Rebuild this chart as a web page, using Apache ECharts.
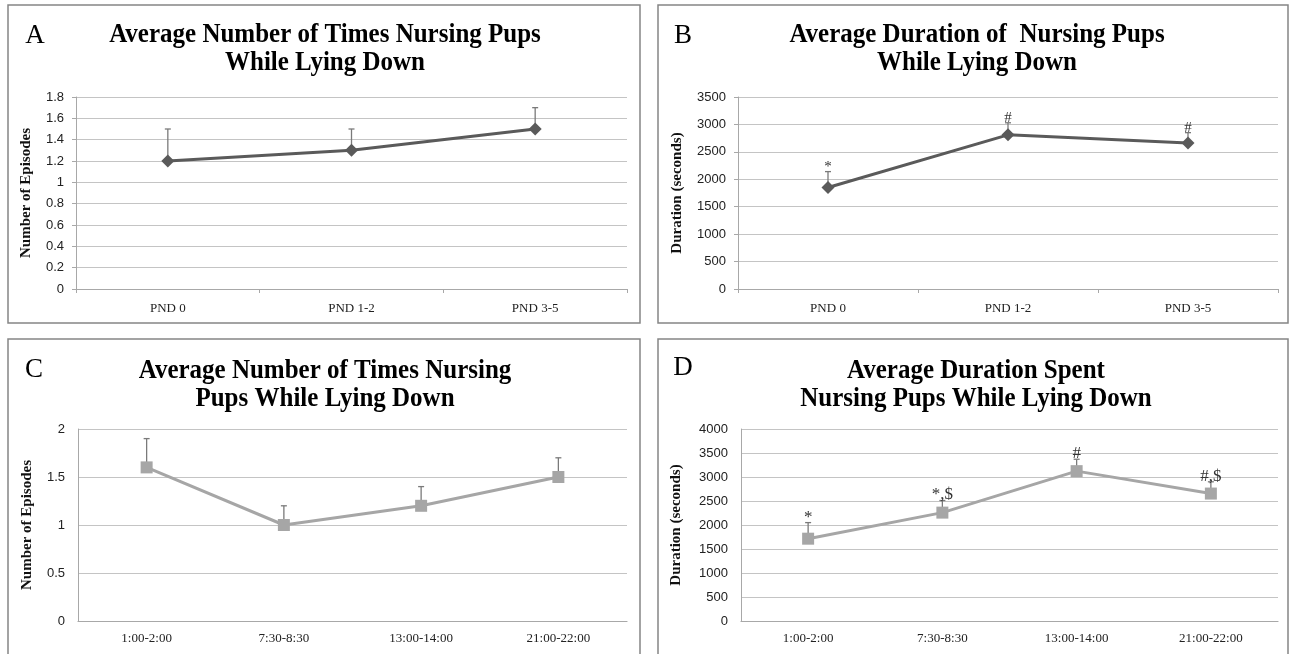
<!DOCTYPE html>
<html>
<head>
<meta charset="utf-8">
<script src="https://cdn.jsdelivr.net/npm/echarts@6/dist/echarts.min.js"></script>
<style>html,body{margin:0;padding:0;background:#fff;}#c{width:1289px;height:654px;}</style>
</head>
<body>
<div id="c"></div>
<script>
// ---- data ----
const catsAB = ['PND 0', 'PND 1-2', 'PND 3-5'];
const catsCD = ['1:00-2:00', '7:30-8:30', '13:00-14:00', '21:00-22:00'];

const meanA = [1.2, 1.3, 1.5];
const upperA = [1.5, 1.5, 1.7];
const markA = ['', '', ''];

const meanB = [1850, 2810, 2660];
const upperB = [2140, 3030, 2850];
const markB = ['*', '#', '#'];

const meanC = [1.6, 1.0, 1.2, 1.5];
const upperC = [1.9, 1.2, 1.4, 1.7];
const markC = ['', '', '', ''];

const meanD = [1715, 2258, 3122, 2655];
const upperD = [2050, 2510, 3370, 2900];
const markD = ['*', '*,$', '#', '#,$'];

const yRangeA = [0, 1.8, 0.2];
const yRangeB = [0, 3500, 500];
const yRangeC = [0, 2, 0.5];
const yRangeD = [0, 4000, 500];

const titleA = 'Average Number of Times Nursing Pups\nWhile Lying Down';
const titleB = 'Average Duration of  Nursing Pups\nWhile Lying Down';
const titleC = 'Average Number of Times Nursing\nPups While Lying Down';
const titleD = 'Average Duration Spent\nNursing Pups While Lying Down';
const nameEp = 'Number of Episodes';
const nameDur = 'Duration (seconds)';

// ---- chart ----
const chart = echarts.init(document.getElementById('c'));
const serif = '"Liberation Serif", "Times New Roman", serif';
const sans = '"Liberation Sans", Arial, sans-serif';
const gridColor = '#c4c4c4';

function yAxis(idx, range, name, gap, ticks) {
  return {
    type: 'value', gridIndex: idx, min: range[0], max: range[1], interval: range[2],
    name: name, nameLocation: 'middle', nameGap: gap,
    nameTextStyle: { fontFamily: serif, fontWeight: 'bold', fontSize: 15, color: '#111' },
    axisLine: { show: true, lineStyle: { color: '#a8a8a8', width: 1 } },
    axisTick: { show: ticks, length: 4, lineStyle: { color: '#a8a8a8' } },
    axisLabel: { fontFamily: sans, fontSize: 13, color: '#222', margin: ticks ? 12 : 13, formatter: v => String(v) },
    splitLine: { show: true, lineStyle: { color: gridColor, width: 1.2 } }
  };
}
function xAxis(idx, cats, ticks, margin) {
  return {
    type: 'category', gridIndex: idx, data: cats, boundaryGap: true,
    axisLine: { show: true, lineStyle: { color: '#a8a8a8', width: 1.2 } },
    axisTick: { show: ticks, length: 4, lineStyle: { color: '#a8a8a8' } },
    axisLabel: { fontFamily: serif, fontSize: 13, color: '#222', margin: margin },
    splitLine: { show: false }
  };
}
function lineSeries(idx, data, color, symbol, size) {
  return {
    type: 'line', xAxisIndex: idx, yAxisIndex: idx, data: data,
    symbol: symbol, symbolSize: size, showSymbol: true,
    lineStyle: { color: color, width: 3 },
    itemStyle: { color: color, borderWidth: 0 },
    z: 5, animation: false, silent: true
  };
}
function errSeries(idx, means, uppers, marks, color, markSize) {
  return {
    type: 'custom', xAxisIndex: idx, yAxisIndex: idx, z: 3, animation: false, silent: true,
    data: means.map((m, i) => [i, m, uppers[i]]),
    renderItem: function (params, api) {
      const p = api.coord([api.value(0), api.value(1)]);
      const t = api.coord([api.value(0), api.value(2)]);
      const children = [
        { type: 'line', shape: { x1: p[0], y1: p[1], x2: t[0], y2: t[1] }, style: { stroke: color, lineWidth: 1.3 } },
        { type: 'line', shape: { x1: t[0] - 3, y1: t[1], x2: t[0] + 3, y2: t[1] }, style: { stroke: color, lineWidth: 1.3 } }
      ];
      const m = marks[params.dataIndex];
      if (m) {
        children.push({ type: 'text', x: t[0], y: t[1] + 3, style: { text: m, fontFamily: serif, fontSize: markSize, fill: '#333', align: 'center', verticalAlign: 'bottom' } });
      }
      return { type: 'group', children: children };
    }
  };
}
function titleText(cx, cy, text) {
  return { type: 'text', x: cx, y: cy, scaleY: 1.1, style: { text: text, fontFamily: serif, fontWeight: 'bold', fontSize: 25, lineHeight: 26, fill: '#000', align: 'center', verticalAlign: 'middle' } };
}
function letter(cx, cy, text) {
  return { type: 'text', x: cx, y: cy, style: { text: text, fontFamily: serif, fontSize: 27, fill: '#000', align: 'center', verticalAlign: 'middle' } };
}
function frame(x, y, w, h) {
  return { type: 'rect', shape: { x: x, y: y, width: w, height: h }, style: { fill: 'none', stroke: '#858585', lineWidth: 1.5 }, z: -1 };
}

const darkGray = '#5a5a5a';
const lightGray = '#a6a6a6';

chart.setOption({
  animation: false,
  backgroundColor: '#fff',
  grid: [
    { left: 76, top: 97, width: 551, height: 192 },
    { left: 738, top: 97, width: 540, height: 192 },
    { left: 78, top: 429, width: 549, height: 192 },
    { left: 741, top: 429, width: 537, height: 192 }
  ],
  xAxis: [xAxis(0, catsAB, true, 13), xAxis(1, catsAB, true, 13), xAxis(2, catsCD, false, 11), xAxis(3, catsCD, false, 11)],
  yAxis: [
    yAxis(0, yRangeA, nameEp, 42, true),
    yAxis(1, yRangeB, nameDur, 53, true),
    yAxis(2, yRangeC, nameEp, 43, false),
    yAxis(3, yRangeD, nameDur, 57, false)
  ],
  series: [
    errSeries(0, meanA, upperA, markA, '#7a7a7a', 14),
    lineSeries(0, meanA, darkGray, 'diamond', 13),
    errSeries(1, meanB, upperB, markB, '#7a7a7a', 15),
    lineSeries(1, meanB, darkGray, 'diamond', 13),
    errSeries(2, meanC, upperC, markC, '#7a7a7a', 15),
    lineSeries(2, meanC, lightGray, 'rect', 12),
    errSeries(3, meanD, upperD, markD, '#7a7a7a', 17),
    lineSeries(3, meanD, lightGray, 'rect', 12)
  ],
  graphic: [
    frame(8, 5, 632, 318),
    frame(658, 5, 630, 318),
    frame(8, 339, 632, 330),
    frame(658, 339, 630, 330),
    letter(35, 36, 'A'),
    letter(683, 36, 'B'),
    letter(34, 370, 'C'),
    letter(683, 368, 'D'),
    titleText(325, 49, titleA),
    titleText(977, 49, titleB),
    titleText(325, 385, titleC),
    titleText(976, 385, titleD)
  ]
});
</script>
</body>
</html>
